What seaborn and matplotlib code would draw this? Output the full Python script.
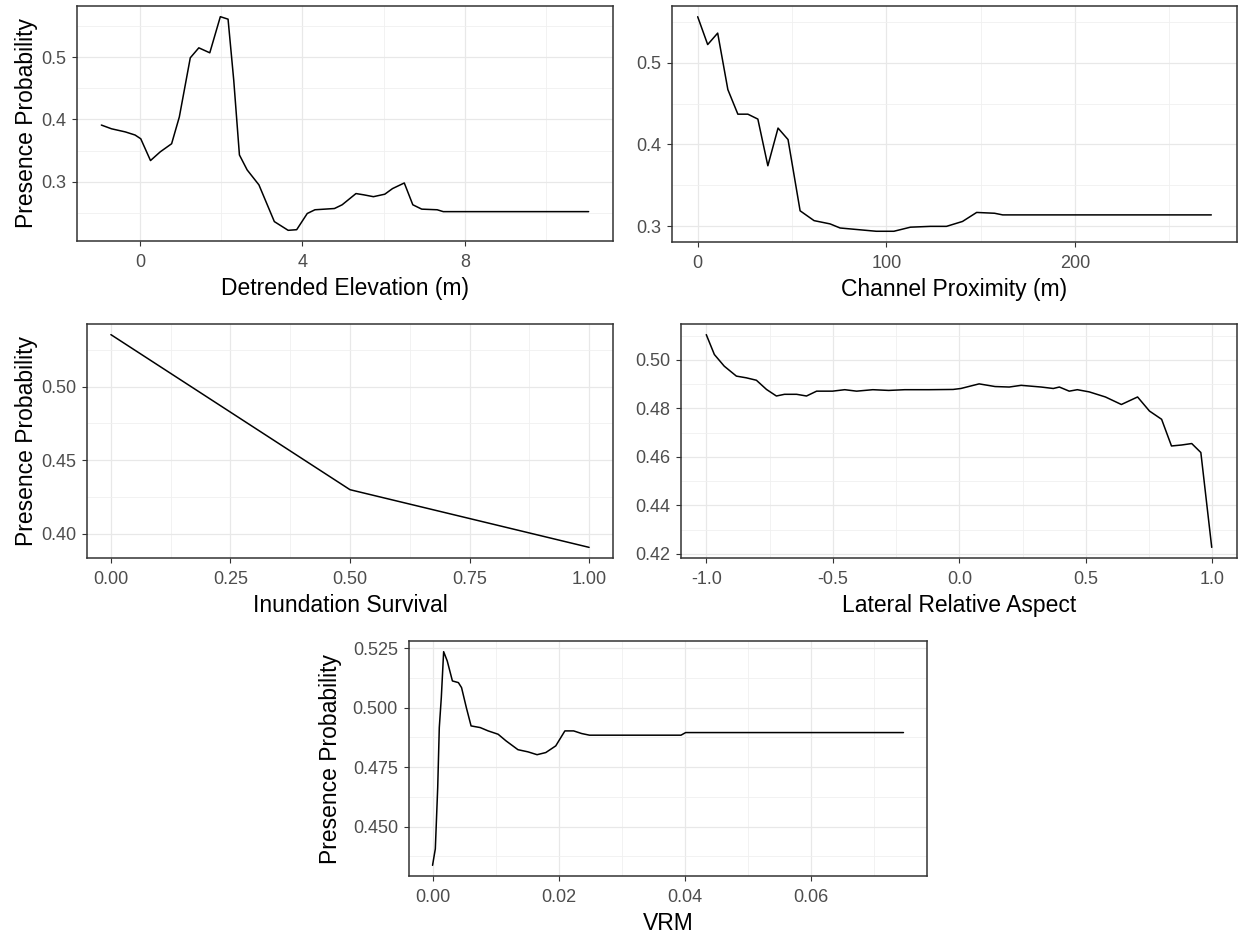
import numpy as np
import pandas as pd
import seaborn as sns
import matplotlib
matplotlib.use("Agg")
import matplotlib.pyplot as plt
from matplotlib.ticker import FixedLocator, FixedFormatter

# --- data ---
elev_x = [-0.95, -0.70, -0.36, -0.12, 0.02, 0.26, 0.50, 0.78, 0.97, 1.24, 1.45, 1.72,
          1.98, 2.17, 2.31, 2.45, 2.64, 2.93, 3.31, 3.65, 3.86, 4.12, 4.31, 4.79,
          4.98, 5.32, 5.51, 5.75, 6.03, 6.22, 6.51, 6.72, 6.94, 7.32, 7.47, 11.05]
elev_y = [0.391, 0.385, 0.380, 0.375, 0.369, 0.334, 0.348, 0.361, 0.404, 0.499, 0.515, 0.507,
          0.565, 0.561, 0.463, 0.343, 0.319, 0.295, 0.236, 0.222, 0.223, 0.249, 0.255, 0.257,
          0.263, 0.281, 0.279, 0.276, 0.280, 0.289, 0.298, 0.263, 0.256, 0.255, 0.252, 0.252]

chan_x = [0, 5.3, 10.6, 16.0, 21.3, 26.6, 31.9, 37.2, 42.6, 47.9, 54.3, 61.7, 70.2, 75.5,
          85.1, 94.7, 104.0, 112.8, 123.4, 131.9, 140.4, 147.9, 157.4, 161.7, 272.3]
chan_y = [0.556, 0.522, 0.536, 0.467, 0.437, 0.437, 0.431, 0.374, 0.420, 0.406, 0.319, 0.307,
          0.303, 0.298, 0.296, 0.294, 0.294, 0.299, 0.300, 0.300, 0.306, 0.317, 0.316, 0.314,
          0.314]

inund_x = [0.0, 0.5, 1.0]
inund_y = [0.5354, 0.430, 0.3908]

aspect_x = [-1.0, -0.968, -0.929, -0.881, -0.842, -0.802, -0.762, -0.723, -0.691, -0.643,
            -0.604, -0.564, -0.501, -0.453, -0.406, -0.342, -0.279, -0.216, -0.120, -0.025,
            0.006, 0.078, 0.141, 0.197, 0.244, 0.323, 0.371, 0.395, 0.434, 0.466, 0.513,
            0.577, 0.640, 0.704, 0.751, 0.799, 0.838, 0.878, 0.918, 0.954, 0.997]
aspect_y = [0.5104, 0.5022, 0.4974, 0.4933, 0.4926, 0.4916, 0.4878, 0.4851, 0.4858, 0.4858,
            0.4851, 0.4871, 0.4871, 0.4877, 0.4871, 0.4877, 0.4874, 0.4877, 0.4877, 0.4878,
            0.4882, 0.4901, 0.4890, 0.4888, 0.4895, 0.4888, 0.4882, 0.4888, 0.4871, 0.4877,
            0.4868, 0.4847, 0.4816, 0.4847, 0.4789, 0.4755, 0.4645, 0.4649, 0.4655, 0.4618,
            0.4227]

vrm_x = [0.0, 0.00044, 0.00082, 0.00107, 0.00139, 0.00176, 0.00233, 0.00315, 0.0041, 0.0046,
         0.00536, 0.00611, 0.00756, 0.00882, 0.0104, 0.01166, 0.01355, 0.01513, 0.01658,
         0.01796, 0.01954, 0.02099, 0.02238, 0.02364, 0.0249, 0.0293, 0.0394, 0.04015, 0.07469]
vrm_y = [0.4337, 0.4406, 0.4665, 0.4916, 0.5042, 0.5235, 0.5196, 0.5112, 0.5105, 0.5084,
         0.5000, 0.4923, 0.4916, 0.4902, 0.4888, 0.4860, 0.4823, 0.4814, 0.4802, 0.4811,
         0.4839, 0.4902, 0.4902, 0.4891, 0.4884, 0.4884, 0.4884, 0.4895, 0.4895]

# tick breaks and labels (ggplot style)
elev_xt, elev_xl = [0, 4, 8], ["0", "4", "8"]
elev_yt, elev_yl = [0.3, 0.4, 0.5], ["0.3", "0.4", "0.5"]
chan_xt, chan_xl = [0, 100, 200], ["0", "100", "200"]
chan_yt, chan_yl = [0.3, 0.4, 0.5], ["0.3", "0.4", "0.5"]
inund_xt, inund_xl = [0, 0.25, 0.5, 0.75, 1.0], ["0.00", "0.25", "0.50", "0.75", "1.00"]
inund_yt, inund_yl = [0.40, 0.45, 0.50], ["0.40", "0.45", "0.50"]
aspect_xt, aspect_xl = [-1.0, -0.5, 0.0, 0.5, 1.0], ["-1.0", "-0.5", "0.0", "0.5", "1.0"]
aspect_yt, aspect_yl = [0.42, 0.44, 0.46, 0.48, 0.50], ["0.42", "0.44", "0.46", "0.48", "0.50"]
vrm_xt, vrm_xl = [0.0, 0.02, 0.04, 0.06], ["0.00", "0.02", "0.04", "0.06"]
vrm_yt, vrm_yl = [0.450, 0.475, 0.500, 0.525], ["0.450", "0.475", "0.500", "0.525"]

W, H = 1238, 936
sns.set_theme(style="white")
plt.rcParams["font.family"] = ["Liberation Sans", "DejaVu Sans"]

TICK_FONT = ["Liberation Sans Narrow", "Liberation Sans", "DejaVu Sans"]
BORDER = "#333333"


def minor_breaks(major, lo, hi):
    step = major[1] - major[0]
    vals = np.arange(major[0] - step / 2, major[-1] + step, step)
    return [v for v in vals if lo <= v <= hi]


def panel(fig, box, x, y, xt, xl, yt, yl, xlabel, ylabel, ylab_px):
    L, R, T, B = box
    ax = fig.add_axes([L / W, 1 - B / H, (R - L) / W, (B - T) / H])
    df = pd.DataFrame({"x": x, "y": y})
    sns.lineplot(data=df, x="x", y="y", ax=ax, color="black", linewidth=1.1, sort=False)

    xlo, xhi = min(x), max(x)
    ylo, yhi = min(y), max(y)
    px, py = 0.05 * (xhi - xlo), 0.05 * (yhi - ylo)
    ax.set_xlim(xlo - px, xhi + px)
    ax.set_ylim(ylo - py, yhi + py)

    ax.xaxis.set_major_locator(FixedLocator(xt))
    ax.xaxis.set_major_formatter(FixedFormatter(xl))
    ax.yaxis.set_major_locator(FixedLocator(yt))
    ax.yaxis.set_major_formatter(FixedFormatter(yl))
    ax.xaxis.set_minor_locator(FixedLocator(minor_breaks(xt, xlo - px, xhi + px)))
    ax.yaxis.set_minor_locator(FixedLocator(minor_breaks(yt, ylo - py, yhi + py)))

    ax.grid(True, which="major", color="#e8e8e8", linewidth=0.9)
    ax.grid(True, which="minor", color="#f0f0f0", linewidth=0.6)
    ax.set_axisbelow(True)

    ax.tick_params(which="major", direction="out", length=3.5, width=0.8, color=BORDER,
                   labelcolor="#4d4d4d", labelsize=13, bottom=True, left=True)
    ax.tick_params(axis="x", which="major", pad=6)
    ax.tick_params(axis="y", which="major", pad=4.5)
    ax.tick_params(which="minor", length=0)
    for lab in ax.get_xticklabels() + ax.get_yticklabels():
        lab.set_family(TICK_FONT)
    for s in ax.spines.values():
        s.set_color(BORDER)
        s.set_linewidth(1.1)

    ax.set_xlabel(xlabel, fontsize=16.5, color="black", labelpad=4.5)
    if ylabel:
        ax.set_ylabel(ylabel, fontsize=16.5, color="black")
        ax.yaxis.set_label_coords((ylab_px - L) / (R - L), 0.5)
    else:
        ax.set_ylabel("")
    return ax


fig = plt.figure(figsize=(W / 100, H / 100), dpi=100)
fig.patch.set_facecolor("white")

panel(fig, (77, 613, 6, 241), elev_x, elev_y, elev_xt, elev_xl, elev_yt, elev_yl,
      "Detrended Elevation (m)", "Presence Probability", 38)
panel(fig, (672, 1237, 6, 242), chan_x, chan_y, chan_xt, chan_xl, chan_yt, chan_yl,
      "Channel Proximity (m)", None, 0)
panel(fig, (87, 613, 324, 558), inund_x, inund_y, inund_xt, inund_xl, inund_yt, inund_yl,
      "Inundation Survival", "Presence Probability", 38)
panel(fig, (681, 1237, 324, 558), aspect_x, aspect_y, aspect_xt, aspect_xl, aspect_yt, aspect_yl,
      "Lateral Relative Aspect", None, 0)
panel(fig, (409, 927, 641, 876), vrm_x, vrm_y, vrm_xt, vrm_xl, vrm_yt, vrm_yl,
      "VRM", "Presence Probability", 342)

fig.savefig("out.png", dpi=100, facecolor="white")
